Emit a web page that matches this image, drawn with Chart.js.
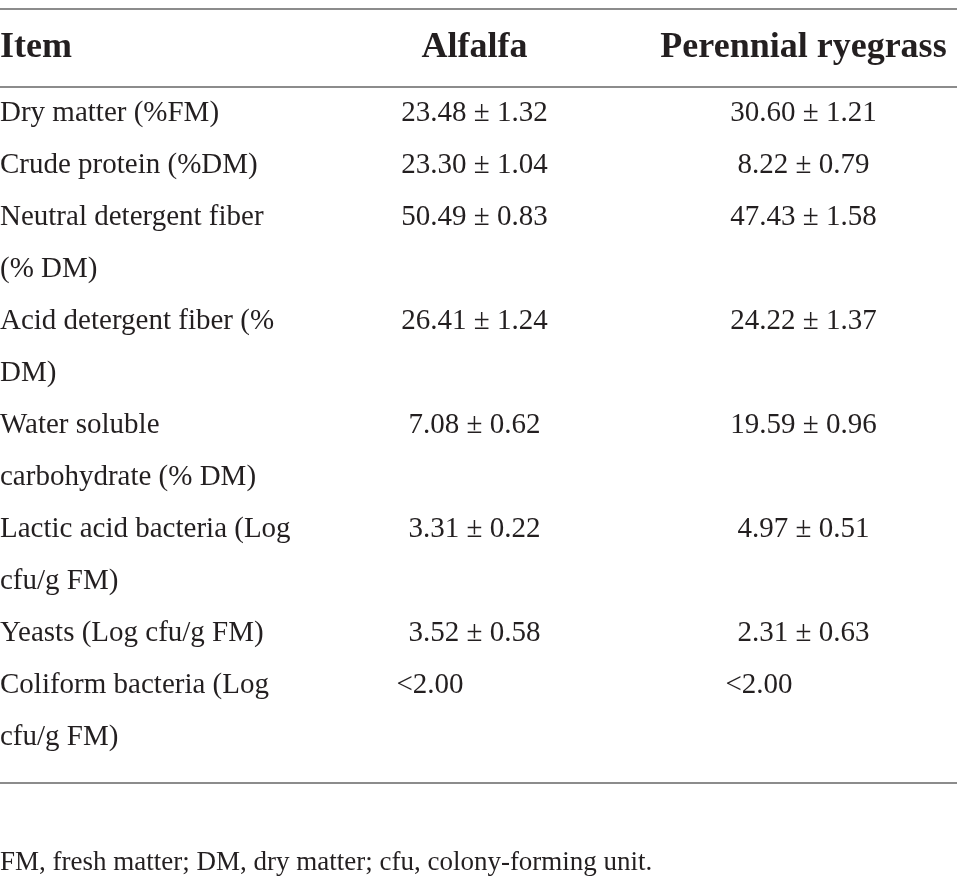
<!DOCTYPE html>
<html>
<head>
<meta charset="utf-8">
<script src="https://cdn.jsdelivr.net/npm/chart.js@4.4.1/dist/chart.umd.min.js"></script>
<style>
  html, body { margin: 0; padding: 0; background: #fff; }
  #wrap { width: 957px; height: 889px; position: relative; }
</style>
</head>
<body>
<div id="wrap"><canvas id="tableChart"></canvas></div>
<script>
// Kolom tabel
const columns = ['Item', 'Alfalfa', 'Perennial ryegrass'];

// Baris: label item (sudah dipecah per baris seperti di gambar)
const items = [
    ['Dry matter (%FM)'],
    ['Crude protein (%DM)'],
    ['Neutral detergent fiber', '(% DM)'],
    ['Acid detergent fiber (%', 'DM)'],
    ['Water soluble', 'carbohydrate (% DM)'],
    ['Lactic acid bacteria (Log', 'cfu/g FM)'],
    ['Yeasts (Log cfu/g FM)'],
    ['Coliform bacteria (Log', 'cfu/g FM)']
];

// Nilai rata-rata dan SD (null = di bawah batas deteksi)
const alfalfaMean = [23.48, 23.30, 50.49, 26.41, 7.08, 3.31, 3.52, null];
const alfalfaSD = [1.32, 1.04, 0.83, 1.24, 0.62, 0.22, 0.58, null];
const ryegrassMean = [30.60, 8.22, 47.43, 24.22, 19.59, 4.97, 2.31, null];
const ryegrassSD = [1.21, 0.79, 1.58, 1.37, 0.96, 0.51, 0.63, null];
const detectionLimit = 2.00;

const footnote = 'FM, fresh matter; DM, dry matter; cfu, colony-forming unit.';

// Posisi vertikal dalam satuan "baris teks" pada sumbu y
const layout = {
    topRule: -2.154,
    header: -1.231,
    headerRule: -0.654,
    bottomRule: 12.731,
    footnote: 14.40,
    yMin: -2.327,
    yMax: 14.769,
    colNudge: [0, -4, 6],
    lessIndent: 78
};

const textColor = '#231f20';
const ruleColor = '#8c8c8c';
const bodyFont = '29px "Liberation Serif", "DejaVu Serif", serif';
const headFont = 'bold 36px "Liberation Serif", "DejaVu Serif", serif';
const noteFont = '27px "Liberation Serif", "DejaVu Serif", serif';

function cell(mean, sd) {
    if (mean === null) return '<' + detectionLimit.toFixed(2);
    return mean.toFixed(2) + ' \u00b1 ' + sd.toFixed(2);
}

// Plugin untuk menggambar isi tabel memakai skala chart
const tablePlugin = {
    id: 'tablePlugin',
    afterDraw(chart) {
        const ctx = chart.ctx;
        const x = chart.scales.x;
        const y = chart.scales.y;
        const area = chart.chartArea;
        const colX = c => x.getPixelForValue(c) + layout.colNudge[c];

        ctx.save();
        // garis horizontal
        ctx.strokeStyle = ruleColor;
        ctx.lineWidth = 2;
        [layout.topRule, layout.headerRule, layout.bottomRule].forEach(v => {
            const py = Math.round(y.getPixelForValue(v));
            ctx.beginPath();
            ctx.moveTo(area.left, py);
            ctx.lineTo(area.right, py);
            ctx.stroke();
        });

        ctx.fillStyle = textColor;
        ctx.textBaseline = 'alphabetic';

        // header
        ctx.font = headFont;
        const hy = y.getPixelForValue(layout.header);
        ctx.textAlign = 'left';
        ctx.fillText(columns[0], area.left, hy);
        ctx.textAlign = 'center';
        ctx.fillText(columns[1], colX(1), hy);
        ctx.fillText(columns[2], colX(2), hy);

        // isi
        ctx.font = bodyFont;
        let line = 0;
        items.forEach((label, i) => {
            const py = y.getPixelForValue(line);
            ctx.textAlign = 'left';
            label.forEach((txt, k) => {
                ctx.fillText(txt, area.left, y.getPixelForValue(line + k));
            });
            const vals = [[alfalfaMean[i], alfalfaSD[i]], [ryegrassMean[i], ryegrassSD[i]]];
            vals.forEach((v, c) => {
                const cx = colX(c + 1);
                if (v[0] === null) {
                    ctx.textAlign = 'left';
                    ctx.fillText(cell(v[0], v[1]), cx - layout.lessIndent, py);
                } else {
                    ctx.textAlign = 'center';
                    ctx.fillText(cell(v[0], v[1]), cx, py);
                }
            });
            line += label.length;
        });

        // catatan kaki
        ctx.font = noteFont;
        ctx.textAlign = 'left';
        ctx.fillText(footnote, area.left, y.getPixelForValue(layout.footnote));
        ctx.restore();
    }
};

const ctx = document.getElementById('tableChart').getContext('2d');
const chartInstance = new Chart(ctx, {
    type: 'scatter',
    data: {
        labels: columns,
        datasets: [{ data: [], pointRadius: 0 }]
    },
    options: {
        responsive: true,
        maintainAspectRatio: false,
        animation: false,
        layout: { padding: 0 },
        plugins: {
            legend: { display: false },
            tooltip: { enabled: false }
        },
        scales: {
            x: { type: 'category', labels: columns, offset: true, display: false },
            y: { type: 'linear', reverse: true, min: layout.yMin, max: layout.yMax, display: false }
        }
    },
    plugins: [tablePlugin]
});
</script>
</body>
</html>
